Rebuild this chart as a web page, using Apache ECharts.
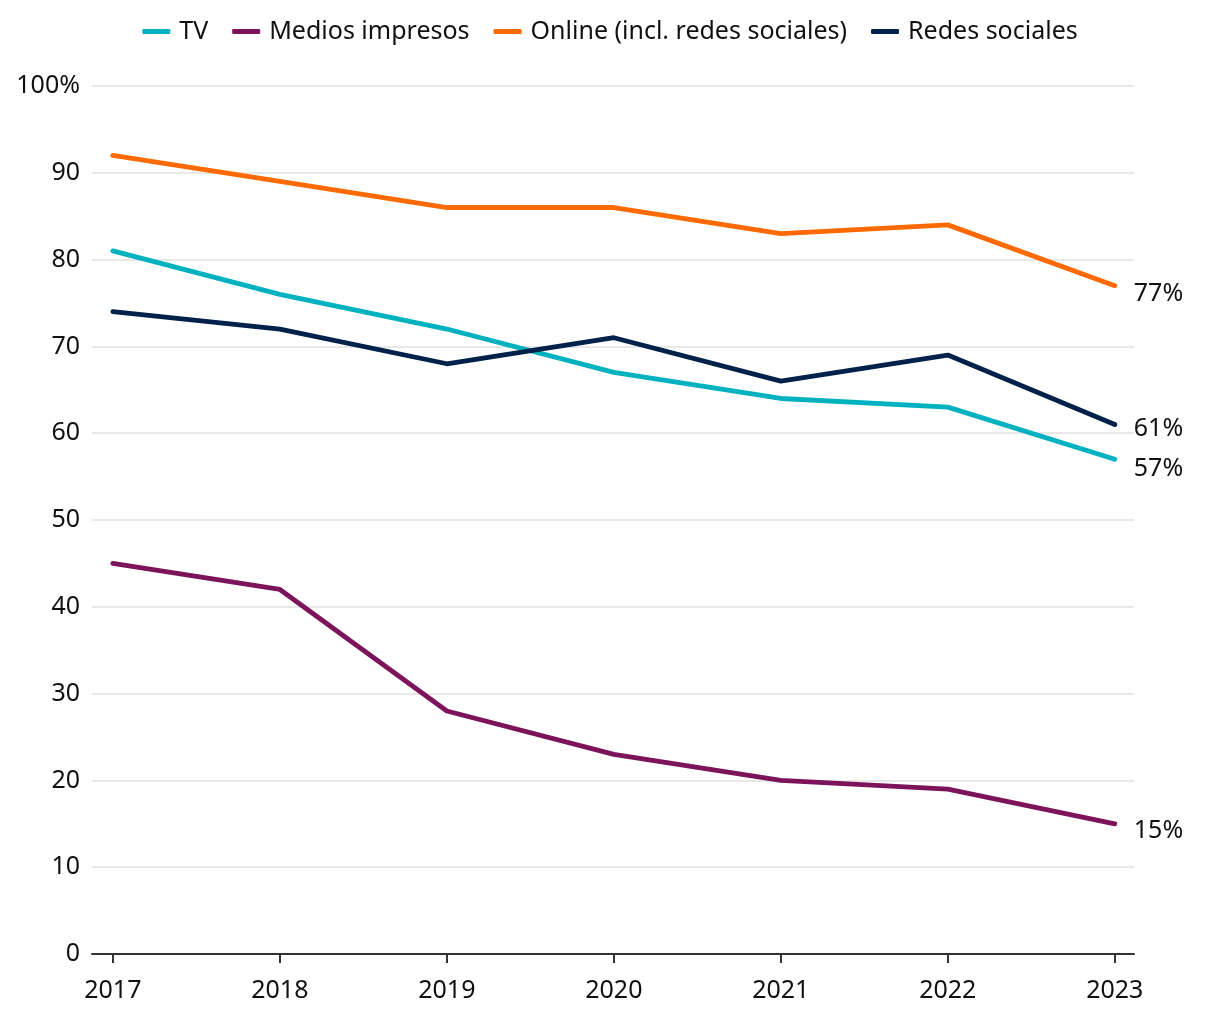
<!DOCTYPE html>
<html>
<head>
<meta charset="utf-8">
<script src="https://cdn.jsdelivr.net/npm/echarts@6/dist/echarts.min.js"></script>
<style>
html,body{margin:0;padding:0;background:#fff;}
#chart{width:1220px;height:1020px;}
</style>
</head>
<body>
<div id="chart"></div>
<script>
const years = [2017, 2018, 2019, 2020, 2021, 2022, 2023];
const seriesNames = ['TV', 'Medios impresos', 'Online (incl. redes sociales)', 'Redes sociales'];
const tv = [81, 76, 72, 67, 64, 63, 57];
const medios = [45, 42, 28, 23, 20, 19, 15];
const online = [92, 89, 86, 86, 83, 84, 77];
const redes = [74, 72, 68, 71, 66, 69, 61];
const yTicks = [0, 10, 20, 30, 40, 50, 60, 70, 80, 90, 100];

const colors = ['#00b1bf', '#7d135b', '#ff6a00', '#00214a'];
const labelOffsets = [[0, 10], [0, 7], [0, 8], [0, 4]];
const font = '"Noto Sans", sans-serif';
const fs = 25;

function pairs(arr) { return years.map((y, i) => [y, arr[i]]); }

const allData = [tv, medios, online, redes];

const chart = echarts.init(document.getElementById('chart'));
chart.setOption({
  animation: false,
  backgroundColor: '#fff',
  color: colors,
  textStyle: { fontFamily: font },
  legend: {
    top: 14,
    left: 'center',
    itemWidth: 28,
    itemHeight: 5,
    itemGap: 24,
    icon: 'roundRect',
    textStyle: { fontSize: fs, color: '#111', fontFamily: font, padding: [0, 0, 0, 4] },
    data: seriesNames
  },
  grid: { left: 92, right: 86, top: 86, bottom: 66, containLabel: false },
  xAxis: {
    type: 'value',
    min: 2016.875,
    max: 2023.115,
    splitLine: { show: false },
    axisLine: { show: true, lineStyle: { color: '#333', width: 2 } },
    axisTick: { show: true, customValues: years, length: 9, lineStyle: { color: '#333', width: 2 } },
    axisLabel: { customValues: years, formatter: v => String(v), fontSize: fs, color: '#111', margin: 24, fontFamily: font }
  },
  yAxis: {
    type: 'value',
    min: 0,
    max: 100,
    interval: 10,
    axisLine: { show: false },
    axisTick: { show: false },
    splitLine: { show: true, lineStyle: { color: '#e0e0e0', width: 1.5 } },
    axisLabel: {
      fontSize: fs, color: '#111', margin: 12, fontFamily: font,
      formatter: v => (v === yTicks[yTicks.length - 1] ? v + '%' : String(v))
    }
  },
  series: allData.map((arr, si) => ({
    name: seriesNames[si],
    type: 'line',
    data: pairs(arr),
    symbol: 'none',
    lineStyle: { width: 4.8, color: colors[si], cap: 'round', join: 'round' },
    itemStyle: { color: colors[si] },
    z: si === 1 ? 2 : 3,
    endLabel: {
      show: true,
      formatter: p => p.value[1] + '%',
      fontSize: fs,
      color: '#111',
      fontFamily: font,
      distance: 19,
      offset: labelOffsets[si]
    }
  }))
});
</script>
</body>
</html>
